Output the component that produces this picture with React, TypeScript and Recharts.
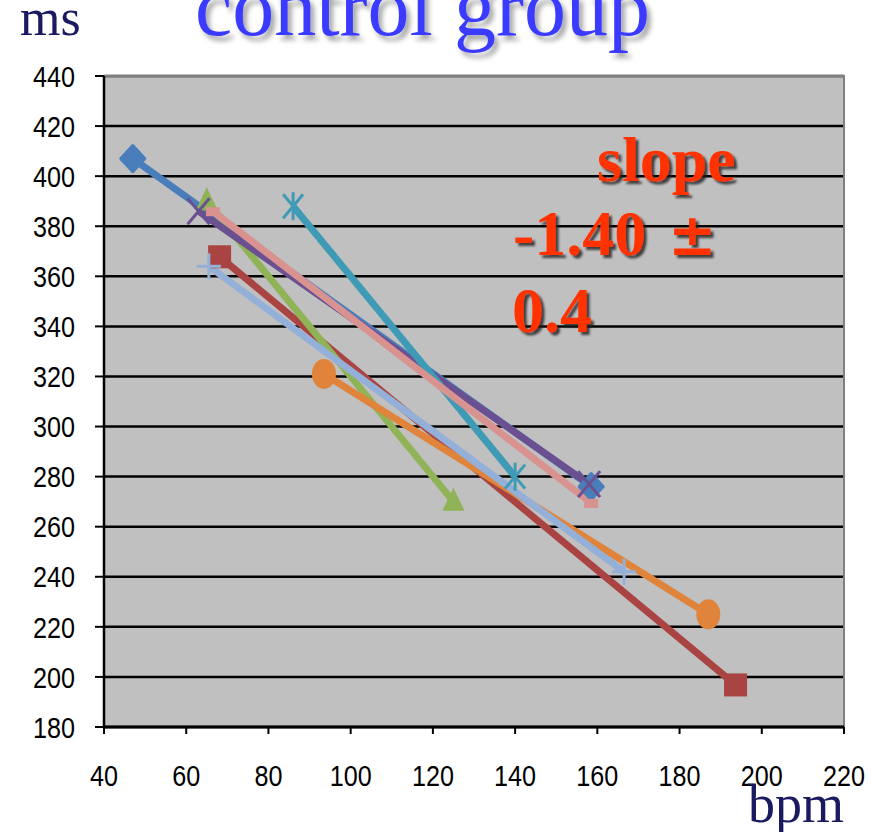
import React from "react";
import {
  ComposedChart,
  Line,
  XAxis,
  YAxis,
  CartesianGrid,
  ReferenceArea,
} from "recharts";

// each subject: resting and exercise point (bpm, ms)
const blueDiamond = [
  { x: 47, y: 407 },
  { x: 158.5, y: 276 },
];
const redSquare = [
  { x: 68, y: 368 },
  { x: 193.5, y: 197 },
];
const greenTriangle = [
  { x: 65, y: 390 },
  { x: 125, y: 270 },
];
const purpleCross = [
  { x: 63, y: 386 },
  { x: 158, y: 277 },
];
const tealStar = [
  { x: 86, y: 388 },
  { x: 140, y: 280 },
];
const orangeCircle = [
  { x: 93.5, y: 321 },
  { x: 187, y: 225 },
];
const lightBluePlus = [
  { x: 65.5, y: 364 },
  { x: 166.5, y: 242 },
];
const pinkDash = [
  { x: 66.5, y: 386 },
  { x: 158.5, y: 269.5 },
];

const xTicks = [40, 60, 80, 100, 120, 140, 160, 180, 200, 220];
const yTicks = [180, 200, 220, 240, 260, 280, 300, 320, 340, 360, 380, 400, 420, 440];

type MarkerProps = { cx?: number; cy?: number; index?: number };

const marker = (kind: string, color: string) => (p: MarkerProps) => {
  const cx = p.cx ?? 0;
  const cy = p.cy ?? 0;
  const k = `${kind}-${p.index}`;
  if (kind === "diamond")
    return (
      <path
        key={k}
        d={`M${cx},${cy - 13} L${cx + 12},${cy} L${cx},${cy + 13} L${cx - 12},${cy} Z`}
        fill={color}
        stroke={color}
        strokeWidth={3}
        strokeLinejoin="round"
      />
    );
  if (kind === "square")
    return <rect key={k} x={cx - 11} y={cy - 11} width={23} height={23} fill={color} />;
  if (kind === "triangle")
    return (
      <path
        key={k}
        d={`M${cx},${cy - 14} L${cx + 11},${cy + 9} L${cx - 11},${cy + 9} Z`}
        fill={color}
      />
    );
  if (kind === "circle")
    return <ellipse key={k} cx={cx} cy={cy} rx={12} ry={15} fill={color} />;
  if (kind === "cross")
    return (
      <g key={k} stroke={color} strokeWidth={3}>
        <line x1={cx - 11} y1={cy + 13} x2={cx + 11} y2={cy - 13} />
        <line x1={cx - 11} y1={cy - 13} x2={cx + 11} y2={cy + 13} />
      </g>
    );
  if (kind === "star")
    return (
      <g key={k} stroke={color} strokeWidth={3}>
        <line x1={cx - 10} y1={cy - 12} x2={cx + 10} y2={cy + 12} />
        <line x1={cx - 10} y1={cy + 12} x2={cx + 10} y2={cy - 12} />
        <line x1={cx} y1={cy - 14} x2={cx} y2={cy + 14} />
      </g>
    );
  if (kind === "plus")
    return (
      <g key={k} stroke={color} strokeWidth={3}>
        <line x1={cx - 12} y1={cy} x2={cx + 12} y2={cy} />
        <line x1={cx} y1={cy - 13} x2={cx} y2={cy + 13} />
      </g>
    );
  return <rect key={k} x={cx - 7} y={cy - 4} width={14} height={9} fill={color} />;
};

const series = [
  { data: blueDiamond, color: "#4a7ebb", kind: "diamond" },
  { data: redSquare, color: "#a94442", kind: "square" },
  { data: greenTriangle, color: "#8fb356", kind: "triangle" },
  { data: purpleCross, color: "#6a5090", kind: "cross" },
  { data: tealStar, color: "#3f9bb5", kind: "star" },
  { data: orangeCircle, color: "#e0843c", kind: "circle" },
  { data: lightBluePlus, color: "#94b0d8", kind: "plus" },
  { data: pinkDash, color: "#d89290", kind: "dash" },
];

const SANS = "'Liberation Sans', Arial, sans-serif";
const SERIF = "'Liberation Serif', 'Times New Roman', serif";

// narrow-looking tick labels
const makeTick = (anchor: "middle" | "end", dy: string) => (props: any) => {
  const { x, y, payload } = props;
  return (
    <g transform={`translate(${x},${y}) scale(0.84,1)`}>
      <text
        x={0}
        y={0}
        dy={dy}
        textAnchor={anchor}
        fontFamily={SANS}
        fontSize={30}
        fill="#000"
      >
        {payload.value}
      </text>
    </g>
  );
};

export default function App() {
  return (
    <div
      style={{
        position: "absolute",
        left: 0,
        top: 0,
        width: 877,
        height: 832,
        background: "#fff",
        overflow: "hidden",
      }}
    >
      <ComposedChart
        width={877}
        height={832}
        margin={{ top: 76, right: 33, bottom: 0, left: 0 }}
      >
        <CartesianGrid
          vertical={false}
          stroke="#000"
          strokeWidth={2.5}
          fill="#c0c0c0"
          fillOpacity={1}
        />
        <ReferenceArea
          x1={40}
          x2={220}
          y1={180}
          y2={440}
          fill="none"
          stroke="#808080"
          strokeWidth={2}
          ifOverflow="visible"
        />
        <XAxis
          type="number"
          dataKey="x"
          height={105}
          domain={[40, 220]}
          ticks={xTicks}
          interval={0}
          allowDataOverflow
          axisLine={{ stroke: "#000", strokeWidth: 3 }}
          tickLine={{ stroke: "#000", strokeWidth: 2 }}
          tickSize={7}
          tickMargin={31}
          tick={makeTick("middle", "0.71em")}
        />
        <YAxis
          type="number"
          dataKey="y"
          width={104}
          domain={[180, 440]}
          ticks={yTicks}
          interval={0}
          allowDataOverflow
          axisLine={{ stroke: "#000", strokeWidth: 2.5 }}
          tickLine={{ stroke: "#000", strokeWidth: 2 }}
          tickSize={9}
          tickMargin={20}
          tick={makeTick("end", "0.355em")}
        />
        {series.map((s, i) => (
          <Line
            key={i}
            data={s.data}
            dataKey="y"
            type="linear"
            stroke={s.color}
            strokeWidth={7}
            dot={marker(s.kind, s.color)}
            activeDot={false}
            isAnimationActive={false}
          />
        ))}
      </ComposedChart>

      <svg
        width={877}
        height={832}
        style={{ position: "absolute", left: 0, top: 0, pointerEvents: "none" }}
      >
        <defs>
          <filter id="titleShadow" x="-10%" y="-30%" width="120%" height="160%">
            <feDropShadow dx={4} dy={5} stdDeviation={2.5} floodColor="#000" floodOpacity={0.35} />
          </filter>
          <filter id="slopeShadow" x="-10%" y="-30%" width="120%" height="160%">
            <feDropShadow dx={3} dy={3} stdDeviation={1.2} floodColor="#222" floodOpacity={0.8} />
          </filter>
        </defs>
        <text x={20} y={35} fontFamily={SERIF} fontSize={52} fill="#1a1a60">
          ms
        </text>
        <text
          x={195}
          y={35}
          fontFamily={SERIF}
          fontSize={84}
          fill="#3a3aff"
          filter="url(#titleShadow)"
        >
          control group
        </text>
        <text x={748} y={822} fontFamily={SERIF} fontSize={54} fill="#1a1a60">
          bpm
        </text>
        <g fill="#ff3300" fontFamily={SERIF} fontWeight="bold" fontSize={64} filter="url(#slopeShadow)">
          <text x={597} y={181}>
            slope
          </text>
          <text x={513} y={255}>
            -1.40
          </text>
          <text x={668} y={255} fontFamily="'DejaVu Serif', serif" fontSize={58}>
            ±
          </text>
          <text x={512} y={332}>
            0.4
          </text>
        </g>
      </svg>
    </div>
  );
}
